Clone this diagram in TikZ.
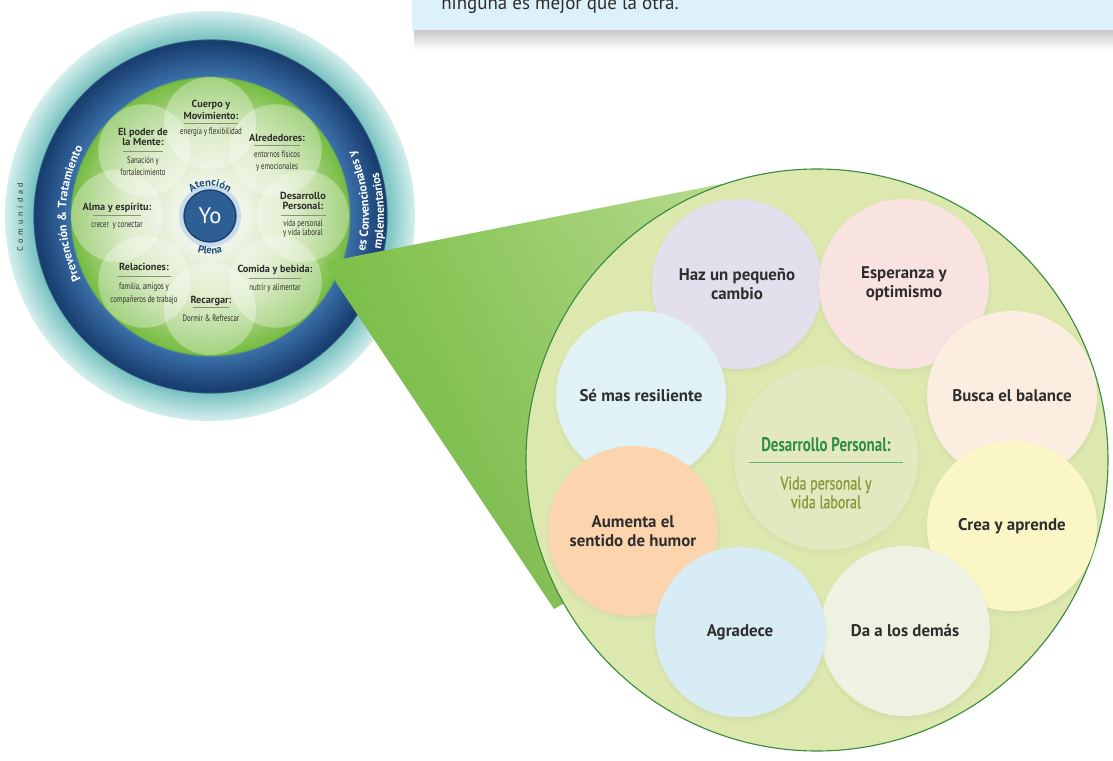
\documentclass[tikz,border=0pt]{standalone}
\usepackage{fontspec}
\setmainfont{PT Sans}
\newfontfamily\narrowfont[FakeStretch=0.76]{PT Sans}
\newfontfamily\narrowsemi[FakeStretch=0.76, FakeBold=1]{PT Sans}
\newfontfamily\descfont[FakeStretch=0.74]{PT Sans}
\newfontfamily\spacedfont[LetterSpace=45]{PT Sans}
\usetikzlibrary{decorations.text,shadows,shadings}

\definecolor{bannerblue}{HTML}{DDF1FA}
\definecolor{inkgray}{HTML}{2E2E2E}
\definecolor{rulegray}{HTML}{8A9080}
\definecolor{diskwhite}{HTML}{EEF4E6}
\definecolor{diskpale}{HTML}{CFE5B2}
\definecolor{diskgreen}{HTML}{76BC42}
\definecolor{ringinner}{HTML}{3A6FA8}
\definecolor{ringouter}{HTML}{173B6C}
\definecolor{tealinner}{HTML}{79C3C2}
\definecolor{tealouter}{HTML}{D5EFEC}
\definecolor{yoblue}{HTML}{2D5E94}
\definecolor{yodark}{HTML}{1B416F}
\definecolor{yohalo}{HTML}{C9DCEA}
\definecolor{plenablue}{HTML}{1F4C7C}
\definecolor{wedgedark}{HTML}{6AB23A}
\definecolor{wedgemid}{HTML}{80C24C}
\definecolor{wedgelight}{HTML}{C4E09E}
\definecolor{wedgesoft}{HTML}{9FCD72}
\definecolor{zoomgreen}{HTML}{DCE8AE}
\definecolor{zoomedge}{HTML}{3A8C40}
\definecolor{coregreen}{HTML}{E2E9C1}
\definecolor{titlegreen}{HTML}{2F8D45}
\definecolor{rulegreen}{HTML}{6DB36D}
\definecolor{subolive}{HTML}{8A9A36}
\definecolor{bubhaz}{HTML}{E4DFEC}
\definecolor{bubesp}{HTML}{F8E3E1}
\definecolor{bubbusca}{HTML}{FCEDE1}
\definecolor{bubcrea}{HTML}{FAF6C6}
\definecolor{bubda}{HTML}{EEF2E2}
\definecolor{bubagr}{HTML}{D7ECF4}
\definecolor{bubaum}{HTML}{FCD5AF}
\definecolor{bubse}{HTML}{E1F2F7}

% wheel: disk r=140, blue ring to r=177, teal ring to r=205 (205 -> 25bp)
\pgfdeclareradialshading{wheelshade}{\pgfpoint{0bp}{0bp}}{color(0bp)=(diskwhite); color(4.5bp)=(diskwhite); color(10bp)=(diskpale); color(16.95bp)=(diskgreen); color(17.1bp)=(ringinner); color(21.5bp)=(ringouter); color(21.65bp)=(tealinner); color(25bp)=(tealouter); color(50bp)=(tealouter)}

\newcommand{\df}{\descfont\mdseries\fontsize{6.6}{7.5}\selectfont}
\newcommand{\rulebar}[1]{\textcolor{rulegray}{\rule{#1}{0.4pt}}}
\newcommand{\ringfont}{\bfseries\fontsize{8.6}{9}\selectfont}
\newcommand{\plenafont}{\bfseries\fontsize{7.5}{8}\selectfont}

\begin{document}
\begin{tikzpicture}[x=0.025cm, y=0.025cm,
	petal/.style={align=center, inner sep=0pt, text=inkgray, font=\bfseries\fontsize{7.3}{9.2}\selectfont},
	bubble/.style={circle, minimum size=4.25cm, inner sep=0pt, align=center, text=inkgray,
		font=\bfseries\fontsize{12}{13.5}\selectfont,
		circular drop shadow={shadow xshift=0pt, shadow yshift=-1.5pt, shadow scale=1.04, opacity=0.22}}]
		%%%%% START %%%%%
		
		\useasboundingbox (0,0) rectangle (1113,-761);
		\clip (0,0) rectangle (1113,-761);
		
		\fill[bannerblue] (412,5) rectangle (1113,-31);
		\shade[top color=black!20, bottom color=white] (414,-31) rectangle (1113,-50);
		\node[anchor=base west, inner sep=0pt, text=inkgray, font=\fontsize{13.5}{14}\selectfont] (banner) at (441,-10) {ninguna es mejor que la otra.};
		
		\coordinate (wheel) at (210,-216);
		\shade[shading=wheelshade] (wheel) circle (205);
		
		\fill[yohalo] (wheel) circle (31);
		\foreach \a in {90,45,...,-225}
			\fill[white, fill opacity=0.33] (wheel) ++(\a:93) circle (46);
		
		\node[circle, minimum size=1.3cm, inner sep=0pt, fill=yoblue, draw=yodark, line width=1pt,
			text=white, font=\fontsize{16}{16}\selectfont] (yo) at (wheel) {Yo};
		
		\path[decorate, decoration={text along path, text align=center, text color=plenablue, text={|\plenafont|Atención}}] (wheel) ++(175:30) arc (175:5:30);
		\path[decorate, decoration={text along path, text align=center, text color=plenablue, text={|\plenafont|Plena}}] (wheel) ++(200:38) arc (200:340:38);
		
		\node[petal] (cuerpo) at (211,-118) {Cuerpo y\\Movimiento:\\[-6.8pt]\rulebar{38pt}\\[-1.4pt]\df energía y flexibilidad};
		\node[petal] (mente) at (143,-152) {El poder de\\[-2.1pt]la Mente:\\[-5.3pt]\rulebar{29pt}\\[-0.7pt]\df Sanación y\\[-0.7pt]\df fortalecimiento};
		\node[petal] (alrededores) at (277,-153) {Alrededores:\\[-6pt]\rulebar{33pt}\\[-0.7pt]\df entornos físicos\\[-0.7pt]\df y emocionales};
		\node[petal] (desarrollo) at (303,-215) {Desarrollo\\[-2.1pt]Personal:\\[-5.3pt]\rulebar{32pt}\\[-1.4pt]\df vida personal\\[-2.8pt]\df y vida laboral};
		\node[petal] (comida) at (275,-279) {Comida y bebida:\\[-4.6pt]\rulebar{37pt}\\[-0.7pt]\df nutrir y alimentar};
		\node[petal] (recargar) at (211,-309) {Recargar:\\[-6pt]\rulebar{26pt}\\[0.8pt]\df Dormir \& Refrescar};
		\node[petal] (relaciones) at (144,-284) {Relaciones:\\[-4.6pt]\rulebar{38pt}\\[0pt]\df familia, amigos y\\[0pt]\df compañeros de trabajo};
		\node[petal] (alma) at (117,-216.5) {Alma y espíritu:\\[-5.3pt]\rulebar{34pt}\\[-0.7pt]\df crecer\ \ y conectar};
		
		\node[rotate=90, inner sep=0pt, text=inkgray, font=\spacedfont\fontsize{5.8}{6}\selectfont] (comunidad) at (20,-217) {Comunidad};
		\path[decorate, decoration={text along path, text align=center, text color=white, text={|\ringfont|Prevención {\&} Tratamiento}}] (wheel) ++(230:144) arc (230:128:144);
		\path[decorate, decoration={text along path, text align=left, text color=white, text={|\ringfont|es Convencionales y}}] (wheel) ++(-13:159) arc (-13:50:159);
		\path[decorate, decoration={text along path, text align=left, text color=white, text={|\ringfont|mplementarios}}] (wheel) ++(-11:174) arc (-11:50:174);
		
		\shade[upper left=wedgemid, upper right=wedgelight, lower left=wedgedark, lower right=wedgesoft]
			(326,-262) -- (752,-178) -- (817,-460) -- (554,-609) -- (337,-284) -- cycle;
		
		\draw[zoomedge, line width=0.8pt, fill=zoomgreen] (817,-460) circle (291);
		
		\node[circle, minimum size=4.6cm, inner sep=0pt, fill=coregreen,
			circular drop shadow={shadow xshift=0pt, shadow yshift=-1.5pt, shadow scale=1.04, opacity=0.15}] (core) at (826,-458) {};
		\node[align=center, inner sep=0pt, font=\narrowsemi\fontsize{13}{13.3}\selectfont] (coretext) at (826,-473)
			{\textcolor{titlegreen}{\narrowfont\bfseries\fontsize{14}{13.3}\selectfont Desarrollo Personal:}\\[-5.3pt]\textcolor{rulegreen}{\rule{110pt}{0.7pt}}\\[5.7pt]\textcolor{subolive}{Vida personal y}\\\textcolor{subolive}{vida laboral}};
		
		\node[bubble, fill=bubhaz] (haz) at (737,-284) {Haz un pequeño\\cambio};
		\node[bubble, fill=bubesp] (esperanza) at (904,-284) {Esperanza y\\optimismo};
		\node[bubble, fill=bubbusca] (busca) at (1012,-396) {Busca el balance};
		\node[bubble, fill=bubcrea] (crea) at (1012,-526) {Crea y aprende};
		\node[bubble, fill=bubda] (da) at (905,-631) {Da a los demás};
		\node[bubble, fill=bubse] (se) at (641,-396) {Sé mas resiliente};
		\node[bubble, fill=bubaum] (aumenta) at (633,-531) {Aumenta el\\sentido de humor};
		\node[bubble, fill=bubagr] (agradece) at (740,-632) {Agradece};
		
		%%%%% END %%%%%
	\end{tikzpicture}
\end{document}
